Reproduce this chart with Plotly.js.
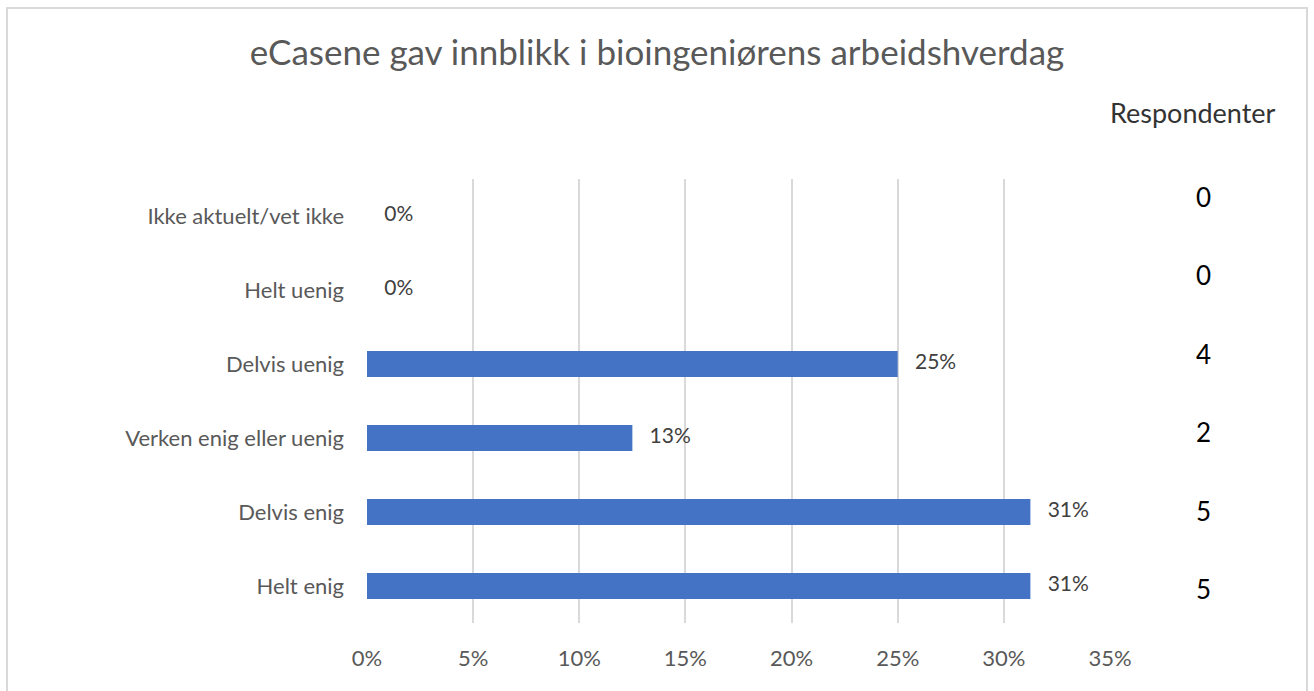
<!DOCTYPE html>
<html>
<head>
<meta charset="utf-8">
<script src="https://cdn.plot.ly/plotly-3.0.1.min.js"></script>
<style>
html,body{margin:0;padding:0;background:#fff;}
#chart{width:1314px;height:691px;}
</style>
</head>
<body>
<div id="chart"></div>
<script>
// Data (top to bottom as shown)
var categories = ["Ikke aktuelt/vet ikke", "Helt uenig", "Delvis uenig", "Verken enig eller uenig", "Delvis enig", "Helt enig"];
var percentages = [0, 0, 0.25, 0.125, 0.3125, 0.3125];
var respondents = [0, 0, 4, 2, 5, 5];
var xTickValues = [0, 0.05, 0.10, 0.15, 0.20, 0.25, 0.30, 0.35];
var xTickLabels = ["0%", "5%", "10%", "15%", "20%", "25%", "30%", "35%"];
var chartTitle = "eCasene gav innblikk i bioingeniørens arbeidshverdag";
var sideHeader = "Respondenter";

var W = 1314, H = 691;
var M = {l: 367, r: 204, t: 179, b: 68};
var plotW = W - M.l - M.r, plotH = H - M.t - M.b;
function px2x(px){ return (px - M.l) / plotW; }
function px2y(py){ return (H - M.b - py) / plotH; }

var FONT = "Lato, 'Open Sans', sans-serif";

var barTrace = {
  type: "bar",
  orientation: "h",
  y: categories,
  x: percentages,
  marker: {color: "#4472C4"},
  width: 0.35,
  hoverinfo: "skip",
  showlegend: false
};

var labelTrace = {
  type: "scatter",
  mode: "markers+text",
  y: categories,
  x: percentages,
  text: percentages.map(function(v){ return Math.round(v * 100) + "%"; }),
  textposition: "middle right",
  textfont: {family: FONT, size: 21, color: "#404040"},
  marker: {size: 26, opacity: 0},
  cliponaxis: false,
  hoverinfo: "skip",
  showlegend: false
};

// right-side respondent counts
var annotations = [{
  text: sideHeader,
  xref: "paper", yref: "paper",
  x: px2x(1193), y: px2y(113),
  xanchor: "center", yanchor: "middle",
  showarrow: false,
  font: {family: FONT, size: 27, color: "#333333"}
}];
respondents.forEach(function(n, i){
  annotations.push({
    text: String(n),
    xref: "paper", yref: "paper",
    x: px2x(1203), y: px2y(197 + i * 78.4),
    xanchor: "center", yanchor: "middle",
    showarrow: false,
    font: {family: FONT, size: 26, color: "#000000"}
  });
});

var layout = {
  width: W, height: H,
  margin: M,
  paper_bgcolor: "#ffffff",
  plot_bgcolor: "#ffffff",
  font: {family: FONT, color: "#595959"},
  title: {
    text: chartTitle,
    x: 657 / W, xref: "container", xanchor: "center",
    y: 1 - 53 / H, yref: "container", yanchor: "middle",
    font: {family: FONT, size: 35, color: "#595959"}
  },
  xaxis: {
    range: [0, 0.35],
    tickvals: xTickValues,
    ticktext: xTickLabels,
    showgrid: true,
    gridcolor: "#d9d9d9",
    gridwidth: 2,
    zeroline: false,
    showline: false,
    ticks: "",
    ticklabelstandoff: 20,
    tickfont: {family: FONT, size: 22, color: "#595959"},
    fixedrange: true
  },
  yaxis: {
    categoryorder: "array",
    categoryarray: categories.slice().reverse(),
    range: [-0.5, 5.5],
    showgrid: false,
    zeroline: false,
    showline: false,
    ticks: "",
    ticklabelstandoff: 22,
    tickfont: {family: FONT, size: 22, color: "#595959"},
    fixedrange: true
  },
  annotations: annotations,
  shapes: [{
    type: "rect", xref: "paper", yref: "paper",
    x0: px2x(7), x1: px2x(1307), y0: px2y(8), y1: px2y(700),
    line: {color: "#d9d9d9", width: 2},
    fillcolor: "rgba(0,0,0,0)",
    layer: "below"
  }]
};

Plotly.newPlot("chart", [barTrace, labelTrace], layout, {displayModeBar: false, staticPlot: true});
</script>
</body>
</html>
